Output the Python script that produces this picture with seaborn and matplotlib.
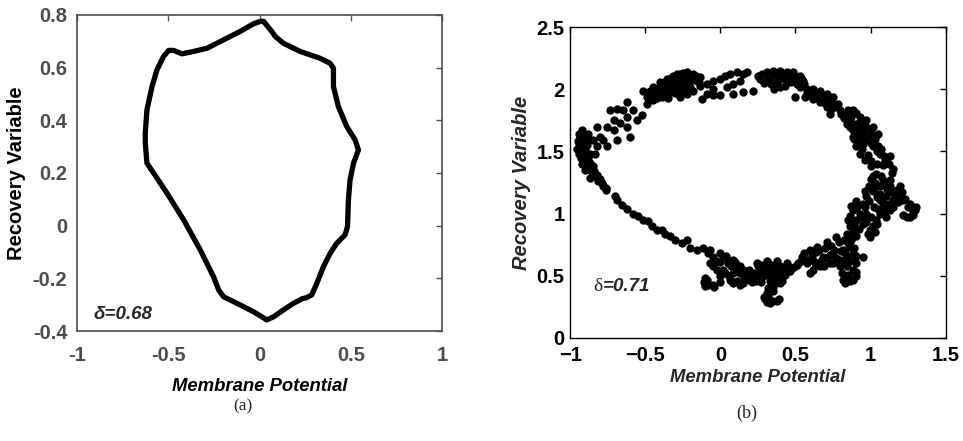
import numpy as np
import pandas as pd
import matplotlib
matplotlib.use("Agg")
import matplotlib.pyplot as plt
import seaborn as sns

# ---------------- data (a): limit cycle ----------------
a_x = [0.022, 0.067, 0.086, 0.131, 0.223, 0.332, 0.387, 0.405, 0.405, 0.432, 0.478, 0.524,
       0.542, 0.515, 0.496, 0.487, 0.482, 0.469, 0.423, 0.387, 0.350, 0.314, 0.286, 0.259,
       0.232, 0.186, 0.131, 0.077, 0.040, 0.013, -0.033, -0.106, -0.197, -0.224, -0.252,
       -0.325, -0.416, -0.507, -0.580, -0.617, -0.626, -0.626, -0.617, -0.589, -0.562,
       -0.526, -0.498, -0.471, -0.425, -0.361, -0.288, -0.197, -0.106, -0.033, 0.004, 0.022]
a_y = [0.775, 0.737, 0.718, 0.692, 0.661, 0.635, 0.616, 0.597, 0.528, 0.452, 0.376, 0.325,
       0.287, 0.237, 0.173, 0.097, -0.004, -0.035, -0.067, -0.105, -0.156, -0.219, -0.263,
       -0.273, -0.278, -0.295, -0.320, -0.346, -0.358, -0.346, -0.327, -0.301, -0.270,
       -0.244, -0.194, -0.092, 0.022, 0.123, 0.199, 0.237, 0.313, 0.351, 0.439, 0.528,
       0.591, 0.642, 0.665, 0.665, 0.652, 0.661, 0.673, 0.705, 0.737, 0.766, 0.775, 0.775]

# ---------------- data (b): scattered trajectory ----------------
b_pts = [
    # left blob
    (-0.933, 1.62), (-0.911, 1.64), (-0.944, 1.56), (-0.911, 1.56), (-0.878, 1.59), (-0.944, 1.48),
    (-0.911, 1.48), (-0.867, 1.48), (-0.922, 1.40), (-0.889, 1.40), (-0.867, 1.35), (-0.833, 1.30),
    (-0.811, 1.26), (-0.778, 1.22), (-0.760, 1.19), (-0.845, 1.38), (-0.955, 1.52), (-0.900, 1.44),
    (-0.925, 1.52), (-0.895, 1.60), (-0.850, 1.33),
    (-0.95, 1.58), (-0.94, 1.64), (-0.92, 1.67), (-0.90, 1.52), (-0.93, 1.45), (-0.91, 1.43),
    (-0.88, 1.45), (-0.89, 1.55), (-0.87, 1.41), (-0.86, 1.37), (-0.84, 1.34), (-0.82, 1.31),
    (-0.80, 1.28), (-0.79, 1.25), (-0.76, 1.21), (-0.88, 1.64), (-0.90, 1.35), (-0.87, 1.29),
    # left upper branch
    (-0.734, 1.83), (-0.689, 1.845), (-0.645, 1.83), (-0.623, 1.90), (-0.578, 1.83), (-0.711, 1.75),
    (-0.667, 1.725), (-0.623, 1.78), (-0.756, 1.70), (-0.711, 1.67), (-0.822, 1.70), (-0.800, 1.62),
    (-0.778, 1.59), (-0.689, 1.59), (-0.756, 1.54), (-0.623, 1.70), (-0.556, 1.75), (-0.523, 1.79),
    (-0.601, 1.62), (-0.845, 1.59), (-0.822, 1.54), (-0.833, 1.48),
    # top-left blob
    (-0.490, 1.94), (-0.468, 1.99), (-0.446, 2.02), (-0.401, 2.06), (-0.357, 2.085), (-0.313, 2.11),
    (-0.268, 2.125), (-0.224, 2.14), (-0.180, 2.125), (-0.446, 1.91), (-0.390, 1.94), (-0.335, 1.98),
    (-0.290, 2.02), (-0.246, 2.06), (-0.202, 2.07), (-0.157, 2.07), (-0.357, 2.02), (-0.313, 2.045),
    (-0.268, 1.94), (-0.224, 1.965), (-0.180, 1.99), (-0.423, 1.965), (-0.490, 1.885), (-0.135, 2.10),
    (-0.512, 1.99), (-0.380, 2.00), (-0.250, 2.00), (-0.300, 2.08),
    (-0.44, 1.96), (-0.42, 2.00), (-0.40, 2.03), (-0.38, 1.95), (-0.36, 1.99), (-0.34, 2.05),
    (-0.33, 2.09), (-0.32, 2.01), (-0.30, 1.97), (-0.28, 2.05), (-0.27, 2.09), (-0.26, 1.99),
    (-0.24, 2.03), (-0.22, 2.10), (-0.21, 2.06), (-0.20, 2.02), (-0.18, 2.08), (-0.16, 2.11),
    (-0.14, 2.06), (-0.37, 2.06), (-0.25, 2.13), (-0.29, 2.12), (-0.42, 1.93), (-0.46, 1.95),
    (-0.35, 1.93),
    # top middle
    (-0.135, 2.03), (-0.091, 2.045), (-0.047, 2.07), (-0.002, 2.085), (0.031, 2.11), (0.064, 2.125),
    (0.109, 2.14), (0.153, 2.125), (0.175, 2.14), (-0.124, 1.925), (-0.047, 1.95), (-0.002, 1.95),
    (0.086, 1.965), (0.153, 1.98), (0.219, 1.99), (0.042, 2.02), (0.086, 2.045), (0.131, 2.07),
    (-0.047, 2.005), (-0.091, 1.965),
    # top-right blob
    (0.264, 2.085), (0.308, 2.14), (0.352, 2.15), (0.397, 2.15), (0.441, 2.14), (0.485, 2.14),
    (0.530, 2.11), (0.552, 2.07), (0.308, 2.07), (0.375, 2.06), (0.441, 2.06), (0.508, 2.045),
    (0.330, 2.09), (0.419, 2.09), (0.485, 2.085), (0.530, 2.02), (0.574, 2.005), (0.618, 2.005),
    (0.663, 1.99), (0.707, 1.965), (0.752, 1.94), (0.563, 1.94), (0.618, 1.925), (0.663, 1.90),
    (0.707, 1.86), (0.729, 1.805), (0.596, 1.965), (0.641, 1.95), (0.696, 1.91), (0.752, 1.885),
    (0.496, 1.94), (0.460, 2.11), (0.380, 2.11),
    (0.25, 2.11), (0.28, 2.12), (0.29, 2.05), (0.32, 2.11), (0.34, 2.04), (0.36, 2.12),
    (0.39, 2.08), (0.40, 2.02), (0.42, 2.12), (0.45, 2.10), (0.47, 2.06), (0.50, 2.11),
    (0.51, 2.07), (0.54, 2.09), (0.56, 2.04), (0.43, 2.03), (0.36, 2.00), (0.58, 1.98),
    (0.60, 1.95), (0.64, 1.96), (0.68, 1.94), (0.70, 1.89), (0.73, 1.91), (0.76, 1.86),
    (0.78, 1.88), (0.74, 1.84),
    # right-upper band
    (0.796, 1.83), (0.840, 1.80), (0.884, 1.83), (0.929, 1.78), (0.973, 1.75), (1.017, 1.70),
    (1.050, 1.64), (0.840, 1.72), (0.884, 1.67), (0.929, 1.64), (0.973, 1.59), (1.017, 1.54),
    (1.062, 1.48), (1.095, 1.43), (1.150, 1.36), (0.906, 1.54), (0.929, 1.48), (0.962, 1.43),
    (1.006, 1.38), (0.884, 1.62), (0.862, 1.75), (1.050, 1.54), (1.128, 1.46), (0.950, 1.70),
    (1.000, 1.65),
    (0.80, 1.80), (0.82, 1.77), (0.85, 1.83), (0.86, 1.70), (0.87, 1.78), (0.90, 1.81),
    (0.90, 1.72), (0.91, 1.67), (0.93, 1.74), (0.95, 1.66), (0.96, 1.62), (0.97, 1.70),
    (0.99, 1.63), (1.00, 1.57), (1.03, 1.60), (1.04, 1.50), (1.07, 1.52), (1.09, 1.46),
    (0.92, 1.58), (0.94, 1.52), (0.98, 1.47), (1.00, 1.42), (1.04, 1.40), (1.08, 1.39),
    (1.12, 1.40), (1.14, 1.33), (0.89, 1.60), (0.95, 1.56),
    # right blob
    (1.039, 1.32), (1.084, 1.27), (1.128, 1.22), (1.173, 1.19), (1.062, 1.16), (1.106, 1.14),
    (1.150, 1.11), (1.084, 1.06), (1.128, 1.03), (1.195, 1.22), (1.217, 1.11), (1.261, 1.08),
    (1.295, 1.03), (1.261, 0.975), (1.217, 0.99), (1.106, 0.975), (1.062, 1.11), (1.060, 1.22),
    (1.00, 1.28), (1.03, 1.25), (1.07, 1.30), (1.09, 1.24), (1.11, 1.20), (1.14, 1.17),
    (1.16, 1.14), (1.19, 1.15), (1.21, 1.17), (1.23, 1.12), (1.25, 1.05), (1.28, 1.02),
    (1.30, 1.05), (1.24, 0.97), (1.28, 0.99), (1.04, 1.13), (1.08, 1.09), (1.12, 1.08),
    (1.10, 1.03), (1.15, 1.05), (1.05, 1.04), (1.18, 1.09), (0.99, 1.22), (1.02, 1.20),
    (1.13, 1.27),
    # right-lower band
    (0.862, 0.90), (0.851, 0.95), (0.884, 1.03), (0.906, 0.95), (0.929, 1.00), (0.951, 1.08),
    (0.973, 1.14), (0.995, 0.87), (1.017, 0.90), (0.995, 0.815), (1.039, 0.95), (1.062, 1.00),
    (0.973, 1.00), (1.017, 1.18), (1.017, 1.30), (0.900, 1.10), (0.950, 0.92),
    (0.86, 0.98), (0.87, 1.06), (0.89, 0.92), (0.91, 1.05), (0.92, 0.88), (0.94, 0.97),
    (0.96, 1.05), (0.97, 0.93), (0.99, 1.10), (1.00, 0.97), (1.02, 1.05), (1.03, 0.85),
    (0.98, 0.84), (0.96, 1.18), (1.04, 0.92), (0.90, 0.82), (0.88, 0.87),
    # lower-right blob
    (0.541, 0.655), (0.596, 0.71), (0.641, 0.735), (0.707, 0.775), (0.773, 0.815), (0.840, 0.84),
    (0.884, 0.84), (0.574, 0.60), (0.618, 0.63), (0.685, 0.655), (0.752, 0.68), (0.818, 0.71),
    (0.862, 0.735), (0.596, 0.52), (0.663, 0.575), (0.729, 0.60), (0.796, 0.63), (0.840, 0.655),
    (0.884, 0.68), (0.807, 0.52), (0.818, 0.47), (0.862, 0.455), (0.906, 0.495), (0.884, 0.55),
    (0.840, 0.575), (0.951, 0.655), (0.906, 0.60), (0.796, 0.575),
    (0.56, 0.68), (0.58, 0.63), (0.61, 0.67), (0.63, 0.60), (0.64, 0.69), (0.66, 0.71),
    (0.67, 0.62), (0.70, 0.72), (0.71, 0.64), (0.73, 0.67), (0.74, 0.74), (0.76, 0.71),
    (0.77, 0.64), (0.79, 0.77), (0.80, 0.70), (0.82, 0.79), (0.83, 0.68), (0.85, 0.76),
    (0.86, 0.62), (0.87, 0.79), (0.89, 0.72), (0.90, 0.66), (0.82, 0.60), (0.85, 0.51),
    (0.88, 0.47), (0.90, 0.53), (0.83, 0.44), (0.62, 0.55), (0.69, 0.58), (0.75, 0.60),
    # bottom-middle blob
    (0.242, 0.60), (0.308, 0.615), (0.375, 0.615), (0.441, 0.60), (0.508, 0.59), (0.264, 0.55),
    (0.330, 0.55), (0.397, 0.55), (0.463, 0.535), (0.286, 0.495), (0.352, 0.48), (0.419, 0.495),
    (0.352, 0.43), (0.397, 0.44), (0.308, 0.36), (0.297, 0.31), (0.330, 0.28), (0.375, 0.295),
    (0.352, 0.375), (0.242, 0.495), (0.197, 0.495),
    (0.25, 0.58), (0.28, 0.59), (0.29, 0.53), (0.31, 0.58), (0.32, 0.51), (0.34, 0.59),
    (0.35, 0.53), (0.37, 0.58), (0.38, 0.50), (0.40, 0.58), (0.42, 0.55), (0.43, 0.51),
    (0.45, 0.57), (0.47, 0.56), (0.49, 0.57), (0.52, 0.60), (0.54, 0.62), (0.33, 0.46),
    (0.37, 0.45), (0.41, 0.46), (0.32, 0.40), (0.35, 0.41), (0.29, 0.33), (0.31, 0.29),
    (0.35, 0.30), (0.39, 0.31), (0.32, 0.34), (0.27, 0.45), (0.22, 0.52), (0.21, 0.45),
    # bottom-left blob
    (-0.047, 0.655), (0.020, 0.655), (0.086, 0.63), (0.131, 0.575), (0.175, 0.52), (0.219, 0.47),
    (-0.047, 0.575), (0.020, 0.55), (0.086, 0.52), (-0.091, 0.47), (-0.047, 0.43), (-0.002, 0.495),
    (0.064, 0.47), (0.153, 0.44), (0.086, 0.44), (-0.069, 0.71), (-0.110, 0.45), (0.050, 0.60),
    (-0.03, 0.62), (0.00, 0.61), (0.00, 0.68), (0.04, 0.66), (0.06, 0.62), (0.07, 0.58),
    (0.10, 0.61), (0.11, 0.55), (0.13, 0.52), (0.15, 0.55), (0.16, 0.49), (0.19, 0.47),
    (0.19, 0.55), (0.22, 0.50), (0.24, 0.46), (0.03, 0.52), (0.06, 0.50), (-0.02, 0.55),
    (-0.07, 0.60), (-0.10, 0.48), (-0.08, 0.43), (-0.04, 0.41), (0.00, 0.45), (0.11, 0.46),
    (0.13, 0.43), (-0.10, 0.42),
    # lower-left branch
    (-0.689, 1.11), (-0.656, 1.07), (-0.623, 1.04), (-0.578, 1.00), (-0.545, 0.98), (-0.512, 0.95),
    (-0.479, 0.94), (-0.457, 0.90), (-0.423, 0.87), (-0.390, 0.87), (-0.368, 0.84), (-0.335, 0.82),
    (-0.301, 0.79), (-0.257, 0.76), (-0.224, 0.79), (-0.202, 0.72), (-0.157, 0.71), (-0.113, 0.72),
    (-0.080, 0.68), (-0.700, 1.14),
]
b_x = [p[0] for p in b_pts]
b_y = [p[1] for p in b_pts]

a_xticks = [-1, -0.5, 0, 0.5, 1]
a_yticks = [-0.4, -0.2, 0, 0.2, 0.4, 0.6, 0.8]
b_xticks = [-1, -0.5, 0, 0.5, 1, 1.5]
b_yticks = [0, 0.5, 1, 1.5, 2, 2.5]

sns.set_theme(style="white")
plt.rcParams['font.family'] = ['Liberation Sans', 'DejaVu Sans']

fig = plt.figure(figsize=(9.63, 4.41), dpi=100)
ax1 = fig.add_axes([0.080, 0.2494, 0.379, 0.717])
ax2 = fig.add_axes([0.592, 0.2336, 0.390, 0.705])

FS = 14.5
XL = 13.3

# panel (a)
dfa = pd.DataFrame({"x": a_x, "y": a_y})
sns.lineplot(data=dfa, x="x", y="y", sort=False, estimator=None, color="black",
             linewidth=3.8, ax=ax1)
ax1.set_xlim(-1, 1)
ax1.set_ylim(-0.4, 0.8)
ax1.set_xticks(a_xticks)
ax1.set_xticklabels(["-1", "-0.5", "0", "0.5", "1"])
ax1.set_yticks(a_yticks)
ax1.set_yticklabels(["-0.4", "-0.2", "0", "0.2", "0.4", "0.6", "0.8"])
gray = "#4d4d4d"
for sp in ax1.spines.values():
    sp.set_color(gray)
    sp.set_linewidth(1.2)
ax1.tick_params(direction="in", length=4, width=1, colors=gray, top=True, right=True,
                labelsize=FS)
ax1.tick_params(axis="x", pad=11)
ax1.tick_params(axis="y", pad=7)
for lab in ax1.get_xticklabels() + ax1.get_yticklabels():
    lab.set_fontweight("bold")
ax1.set_xlabel("Membrane Potential", fontsize=XL, fontweight="bold", fontstyle="italic",
               color="black", labelpad=9)
ax1.set_ylabel("Recovery Variable", fontsize=FS, fontweight="bold", color="black", labelpad=5)
ax1.text(-0.912, -0.339, "δ=0.68", fontsize=13.5, fontweight="bold", fontstyle="italic",
         ha="left", va="center")
fig.text(243 / 963, 1 - 406 / 441, "(a)", fontsize=12.5, family="Liberation Serif",
         ha="center", va="center")

# panel (b)
dfb = pd.DataFrame({"x": b_x, "y": b_y})
sns.scatterplot(data=dfb, x="x", y="y", color="black", s=36, linewidth=0, ax=ax2)
ax2.set_xlim(-1, 1.5)
ax2.set_ylim(0, 2.5)
ax2.set_xticks(b_xticks)
ax2.set_xticklabels(["\u22121", "\u22120.5", "0", "0.5", "1", "1.5"])
ax2.set_yticks(b_yticks)
ax2.set_yticklabels(["0", "0.5", "1", "1.5", "2", "2.5"])
for sp in ax2.spines.values():
    sp.set_color("black")
    sp.set_linewidth(1.0)
ax2.tick_params(direction="in", length=4, width=1, colors="black", top=True, right=True,
                labelsize=FS)
ax2.tick_params(axis="x", pad=6)
ax2.tick_params(axis="y", pad=4)
for lab in ax2.get_xticklabels() + ax2.get_yticklabels():
    lab.set_fontweight("bold")
ax2.set_xlabel("Membrane Potential", fontsize=XL, fontweight="bold", fontstyle="italic",
               labelpad=3)
ax2.set_ylabel("Recovery Variable", fontsize=FS, fontweight="bold", fontstyle="italic",
               labelpad=4)
ax2.text(-0.847, 0.41, "δ", fontsize=14, family="Liberation Serif", ha="left", va="center")
ax2.text(-0.78, 0.41, "=0.71", fontsize=13.5, fontweight="bold", fontstyle="italic",
         ha="left", va="center")
fig.text(747 / 963, 1 - 413 / 441, "(b)", fontsize=13, family="Liberation Serif",
         ha="center", va="center")

fig.savefig("out.png", dpi=100)
